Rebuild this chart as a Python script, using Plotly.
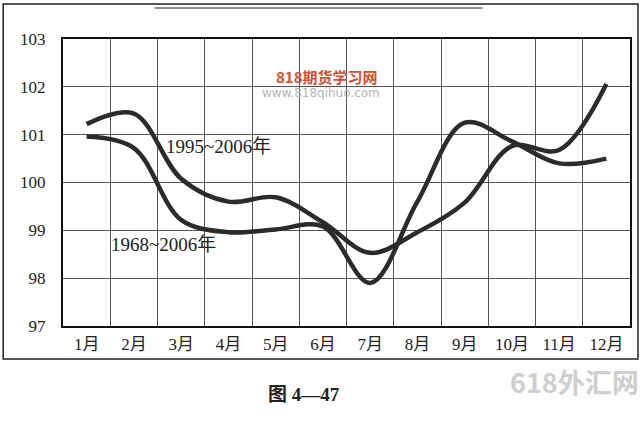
import plotly.graph_objects as go

months = ['1月', '2月', '3月', '4月', '5月', '6月', '7月', '8月', '9月', '10月', '11月', '12月']
series_1995_2006 = [101.22, 101.44, 100.08, 99.6, 99.69, 99.17, 98.53, 98.96, 99.58, 100.76, 100.68, 102.06]
series_1968_2006 = [100.96, 100.72, 99.22, 98.96, 99.02, 99.08, 97.9, 99.6, 101.25, 100.86, 100.4, 100.5]
y_ticks = [97, 98, 99, 100, 101, 102, 103]

SERIF = "Liberation Serif, Times New Roman, Noto Sans CJK SC, serif"
LINE = "#2b2b2b"

# plot-area pixel geometry (for paper-coordinate decorations)
L, R, T, B = 63, 632, 39, 326
def px(x):
    return (x - L) / (R - L)
def py(y):
    return (B - y) / (B - T)

xs = list(range(len(months)))

fig = go.Figure()
fig.add_trace(go.Scatter(x=xs, y=series_1995_2006, mode="lines",
                         line=dict(color=LINE, width=4.5, shape="spline", smoothing=1.0),
                         name="1995~2006年", showlegend=False, hoverinfo="skip"))
fig.add_trace(go.Scatter(x=xs, y=series_1968_2006, mode="lines",
                         line=dict(color=LINE, width=4.5, shape="spline", smoothing=1.0),
                         name="1968~2006年", showlegend=False, hoverinfo="skip"))

fig.update_layout(
    width=644, height=421, autosize=False,
    margin=dict(l=L, r=644 - R, t=T, b=421 - B),
    paper_bgcolor="white", plot_bgcolor="white",
    font=dict(family=SERIF, color="#222", size=17),
    xaxis=dict(range=[-0.5, len(months) - 0.5], tickmode="array", tickvals=xs, ticktext=months,
               showgrid=False, zeroline=False, ticks="", ticklabelstandoff=2,
               showline=True, mirror=True, linecolor="#111", linewidth=2,
               tickfont=dict(family=SERIF, size=17, color="#222"),
               minor=dict(tick0=0.5, dtick=1, showgrid=True, gridcolor="#555", gridwidth=1, ticks="")),
    yaxis=dict(range=[97, 103], tickmode="array", tickvals=y_ticks,
               showgrid=True, gridcolor="#555", gridwidth=1, zeroline=False, ticks="",
               ticklabelstandoff=12,
               showline=True, mirror=True, linecolor="#111", linewidth=2,
               tickfont=dict(family=SERIF, size=17, color="#222")),
)

# series labels
fig.add_annotation(x=2.79, y=100.76, xref="x", yref="y", text="1995~2006年", showarrow=False,
                   xanchor="center", font=dict(family=SERIF, size=19, color="#222"))
fig.add_annotation(x=1.63, y=98.71, xref="x", yref="y", text="1968~2006年", showarrow=False,
                   xanchor="center", font=dict(family=SERIF, size=19, color="#222"))

# caption
fig.add_annotation(x=px(305), y=py(407), xref="paper", yref="paper", text="<b>图 4—47</b>",
                   showarrow=False, xanchor="center", font=dict(family=SERIF, size=19, color="#222"))

# watermarks
fig.add_annotation(x=px(328), y=py(64), xref="paper", yref="paper", text="<b>818期货学习网</b>",
                   showarrow=False, xanchor="center", font=dict(family="Noto Sans CJK SC", size=15, color="#d5502f"))
fig.add_annotation(x=px(322), y=py(84), xref="paper", yref="paper", text="www.818qihuo.com",
                   showarrow=False, xanchor="center", font=dict(family="DejaVu Sans", size=12, color="#b5b5b5"))
fig.add_annotation(x=px(576), y=py(403), xref="paper", yref="paper", text="<b>618外汇网</b>",
                   showarrow=False, xanchor="center", font=dict(family="Noto Sans CJK SC", size=27, color="#cfcfcf"))

# outer frame and header rule
fig.add_shape(type="rect", xref="paper", yref="paper",
              x0=px(3), x1=px(640), y0=py(359), y1=py(4),
              line=dict(color="#222", width=1.5), fillcolor="rgba(0,0,0,0)", layer="below")
fig.add_shape(type="line", xref="paper", yref="paper",
              x0=px(155), x1=px(484), y0=py(8), y1=py(8),
              line=dict(color="#222", width=1.2))

fig.write_html("out.html", config={"displayModeBar": False},
               post_script="document.body.style.margin='0';document.body.style.padding='0';")
